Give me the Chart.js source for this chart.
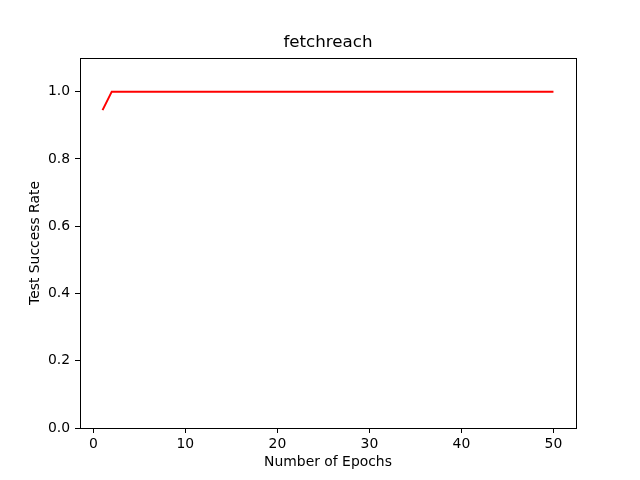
<!DOCTYPE html>
<html>
<head>
<meta charset="utf-8">
<script src="https://cdn.jsdelivr.net/npm/chart.js@4/dist/chart.umd.min.js"></script>
<style>
html,body{margin:0;padding:0;background:#fff;}
#wrap{width:640px;height:480px;}
</style>
</head>
<body>
<div id="wrap"><canvas id="c" width="640" height="480"></canvas></div>
<script>
const chartTitle = "fetchreach";
const xLabel = "Number of Epochs";
const yLabel = "Test Success Rate";
const epochs = [1,2,3,4,5,6,7,8,9,10,11,12,13,14,15,16,17,18,19,20,21,22,23,24,25,26,27,28,29,30,31,32,33,34,35,36,37,38,39,40,41,42,43,44,45,46,47,48,49,50];
const successRate = [0.945,1,1,1,1,1,1,1,1,1,1,1,1,1,1,1,1,1,1,1,1,1,1,1,1,1,1,1,1,1,1,1,1,1,1,1,1,1,1,1,1,1,1,1,1,1,1,1,1,1];
const xTicks = [0,10,20,30,40,50];
const yTicks = [0.0,0.2,0.4,0.6,0.8,1.0];

const FONT = "'DejaVu Sans', sans-serif";

const framePlugin = {
  id: 'frame',
  afterDraw(chart) {
    const {ctx, chartArea: a} = chart;
    ctx.save();
    ctx.strokeStyle = '#000';
    ctx.lineWidth = 1;
    ctx.strokeRect(Math.round(a.left) + 0.5, Math.round(a.top) + 0.5, Math.round(a.right - a.left), Math.round(a.bottom - a.top));
    ctx.fillStyle = '#000';
    ctx.font = "16.7px " + FONT;
    ctx.textAlign = 'center';
    ctx.textBaseline = 'middle';
    ctx.fillText(chartTitle, (a.left + a.right) / 2, 43);
    ctx.restore();
  }
};

new Chart(document.getElementById('c'), {
  type: 'line',
  data: {
    datasets: [{
      data: epochs.map((e, i) => ({x: e, y: successRate[i]})),
      borderColor: '#ff0000',
      borderWidth: 2,
      pointRadius: 0,
      fill: false,
      tension: 0
    }]
  },
  options: {
    responsive: false,
    animation: false,
    devicePixelRatio: 1,
    layout: {padding: {left: 0, right: 64, top: 58, bottom: 0}},
    plugins: {
      legend: {display: false},
      tooltip: {enabled: false},
      title: {display: false}
    },
    scales: {
      x: {
        type: 'linear',
        min: -1.45,
        max: 52.45,
        afterBuildTicks(scale) { scale.ticks = xTicks.map(v => ({value: v})); },
        afterFit(scale) { scale.height = 52; },
        grid: {drawOnChartArea: false, drawTicks: true, tickLength: 5, color: '#000'},
        border: {display: true, color: '#000'},
        ticks: {color: '#000', font: {family: FONT, size: 13.9}, padding: 3, maxRotation: 0, autoSkip: false},
        title: {display: true, text: xLabel, color: '#000', font: {family: FONT, size: 13.9, lineHeight: 1.2}, padding: {top: 0, bottom: 9.6}}
      },
      y: {
        type: 'linear',
        min: 0,
        max: 1.1,
        afterBuildTicks(scale) { scale.ticks = yTicks.map(v => ({value: v})); },
        afterFit(scale) { scale.width = 80; },
        grid: {drawOnChartArea: false, drawTicks: true, tickLength: 5, color: '#000'},
        border: {display: true, color: '#000'},
        ticks: {color: '#000', font: {family: FONT, size: 13.9}, padding: 5, autoSkip: false, callback: v => Number(v).toFixed(1)},
        title: {display: true, text: yLabel, color: '#000', font: {family: FONT, size: 13.9, lineHeight: 1.2}, padding: {top: 26.6, bottom: 0}}
      }
    }
  },
  plugins: [framePlugin]
});
</script>
</body>
</html>
